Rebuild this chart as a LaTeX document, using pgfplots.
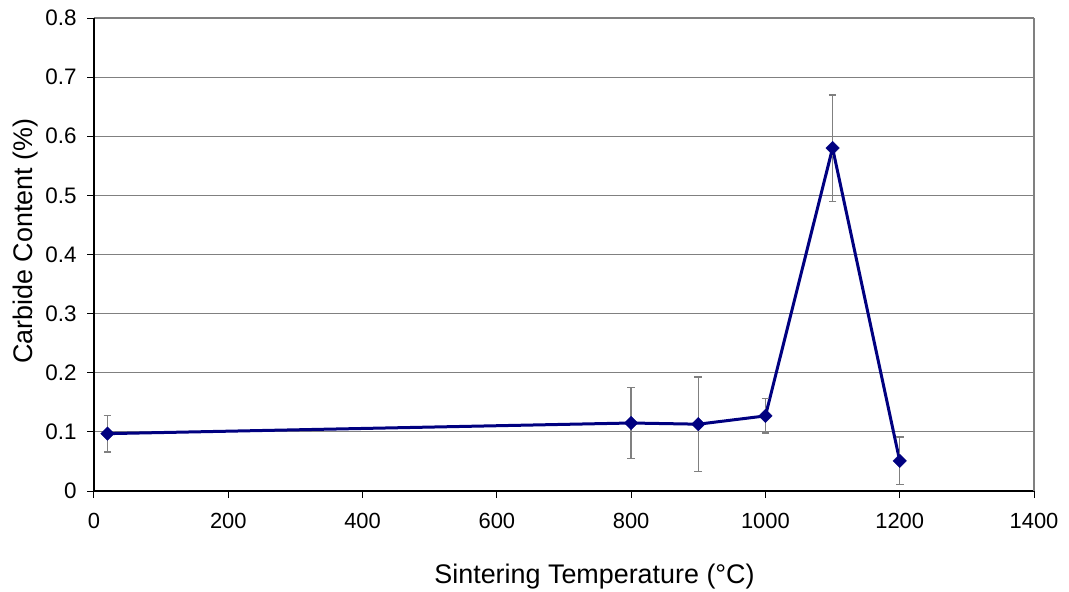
\documentclass[border=0pt]{standalone}
\usepackage{fontspec}
\setmainfont{Liberation Sans}
\usepackage{pgfplots}
\pgfplotsset{compat=1.18}
\definecolor{navy}{RGB}{0,0,128}
\definecolor{gridgray}{RGB}{128,128,128}
\begin{document}
\begin{tikzpicture}
\path[use as bounding box] (-94bp,-101bp) rectangle (975bp,491bp);
\begin{axis}[
  at={(0,0)}, anchor=south west,
  scale only axis,
  width=940bp, height=473bp,
  xmin=0, xmax=1400, ymin=0, ymax=0.8,
  xtick={0,200,...,1400},
  ytick={0,0.1,0.2,0.3,0.4,0.5,0.6,0.7,0.8},
  axis x line*=bottom, axis y line*=left,
  axis line style={black, line width=1.3bp, -},
  tick style={black, line width=1bp},
  tick align=outside,
  major tick length=7bp,
  ymajorgrids,
  major grid style={gridgray, line width=1.2bp},
  /pgf/number format/assume math mode=true,
  yticklabel style={/pgf/number format/fixed, /pgf/number format/precision=1},
  y tick label style={font=\fontsize{22.5}{24}\selectfont, xshift=-7bp},
  x tick label style={font=\fontsize{22}{24}\selectfont, yshift=-12bp},
  xticklabel style={/pgf/number format/1000 sep={}},
  xlabel={Sintering Temperature (°C)},
  ylabel={Carbide Content (\%)},
  label style={font=\fontsize{27}{30}\selectfont},
  xlabel style={at={(axis description cs:0.5325,-0.1945)}, anchor=base},
  ylabel style={at={(axis description cs:-0.0649,0.528)}, anchor=base},
  clip=false,
]
\draw[gridgray, line width=1.2bp] (rel axis cs:1,0) -- (rel axis cs:1,1);
\addplot[
  navy, line width=3bp, mark=square*, mark size=4.8bp,
  mark options={solid, fill=navy, rotate=45, line width=0.3bp},
  error bars/.cd, y dir=both, y explicit,
  error bar style={gridgray, line width=1.4bp},
  error mark options={gridgray, line width=1.4bp, mark size=3.8bp, rotate=90},
] coordinates {
  (20,0.097) +- (0,0.031)
  (800,0.115) +- (0,0.060)
  (900,0.113) +- (0,0.080)
  (1000,0.127) +- (0,0.029)
  (1100,0.580) +- (0,0.090)
  (1200,0.051) +- (0,0.040)
};
\end{axis}
\end{tikzpicture}
\end{document}
